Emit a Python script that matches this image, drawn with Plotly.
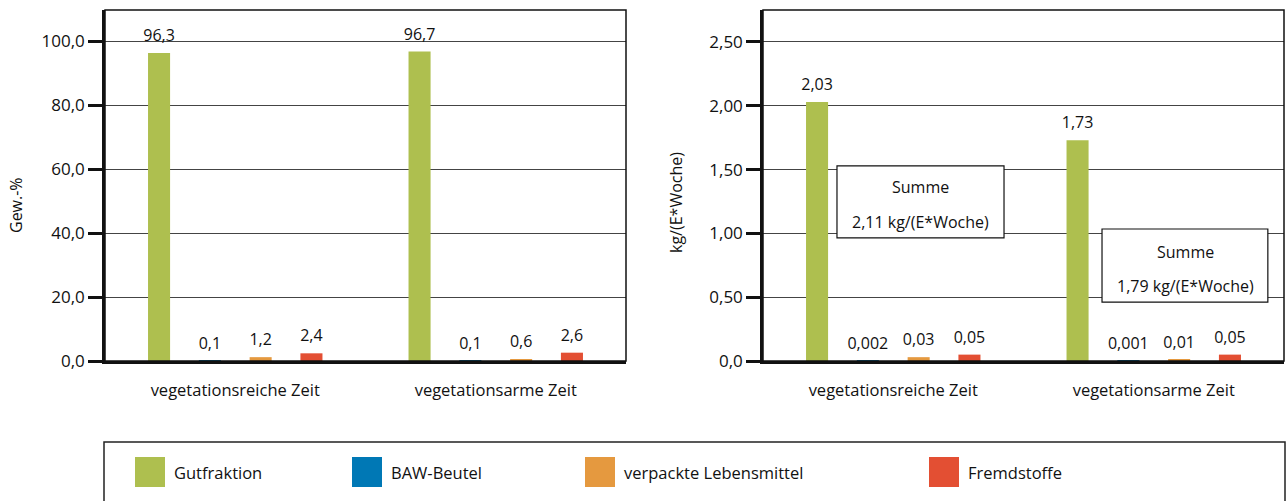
import plotly.graph_objects as go

categories = ["vegetationsreiche Zeit", "vegetationsarme Zeit"]
series_names = ["Gutfraktion", "BAW-Beutel", "verpackte Lebensmittel", "Fremdstoffe"]
colors = ["#AEBF4F", "#0078B5", "#E5993F", "#E34F33"]

# left chart: Gew.-%
pct_gut = [96.3, 96.7]
pct_baw = [0.1, 0.1]
pct_verp = [1.2, 0.6]
pct_fremd = [2.4, 2.6]
pct_labels = [["96,3", "96,7"], ["0,1", "0,1"], ["1,2", "0,6"], ["2,4", "2,6"]]

# right chart: kg/(E*Woche)
kg_gut = [2.03, 1.73]
kg_baw = [0.002, 0.001]
kg_verp = [0.03, 0.01]
kg_fremd = [0.05, 0.05]
kg_labels = [["2,03", "1,73"], ["0,002", "0,001"], ["0,03", "0,01"], ["0,05", "0,05"]]

left_ticks = [0, 20, 40, 60, 80, 100]
left_ticktext = ["0,0", "20,0", "40,0", "60,0", "80,0", "100,0"]
right_ticks = [0, 0.5, 1.0, 1.5, 2.0, 2.5]
right_ticktext = ["0,0", "0,50", "1,00", "1,50", "2,00", "2,50"]

sum_texts = [("Summe", "2,11 kg/(E*Woche)"), ("Summe", "1,79 kg/(E*Woche)")]

FONT = "Open Sans"
W, H = 1287, 501
BARGAP = 0.22

fig = go.Figure()
left_vals = [pct_gut, pct_baw, pct_verp, pct_fremd]
right_vals = [kg_gut, kg_baw, kg_verp, kg_fremd]
for vals, labels, xa, ya in [(left_vals, pct_labels, "x", "y"), (right_vals, kg_labels, "x2", "y2")]:
    for i, name in enumerate(series_names):
        fig.add_trace(go.Bar(x=categories, y=vals[i], name=name, marker_color=colors[i],
                             offsetgroup=str(i), xaxis=xa, yaxis=ya, showlegend=False,
                             hoverinfo="skip"))
    # value labels, grouped like the bars
    for i, name in enumerate(series_names):
        fig.add_trace(go.Scatter(x=categories, y=vals[i], text=labels[i], mode="markers+text",
                                 textposition="top center", offsetgroup=str(i),
                                 marker=dict(size=11, opacity=0, color=colors[i]),
                                 textfont=dict(family=FONT, size=16, color="#111"),
                                 cliponaxis=False, xaxis=xa, yaxis=ya, showlegend=False,
                                 hoverinfo="skip"))

ydom = [1 - 361 / H, 1 - 10 / H]
xdom1 = [105 / W, 626 / W]
xdom2 = [763 / W, 1284 / W]

common_x = dict(type="category", showline=True, linewidth=2.5, linecolor="#111", ticks="",
                tickfont=dict(family=FONT, size=16.5, color="#111"), ticklabelstandoff=12,
                showgrid=False, zeroline=False, automargin=False)
common_y = dict(showline=True, linewidth=2.5, linecolor="#111", ticks="outside", ticklen=14,
                tickwidth=2.5, tickcolor="#111", tickfont=dict(family=FONT, size=17, color="#111"),
                showgrid=True, gridcolor="#444", gridwidth=1, zeroline=False, tickmode="array",
                automargin=False)

fig.update_layout(
    template="none",
    width=W, height=H, autosize=False,
    margin=dict(l=0, r=0, t=0, b=0, pad=0, autoexpand=False),
    paper_bgcolor="white", plot_bgcolor="white",
    barmode="group", bargap=BARGAP, bargroupgap=0.566,
    scattermode="group", scattergap=BARGAP,
    xaxis=dict(domain=xdom1, anchor="y", **common_x),
    yaxis=dict(domain=ydom, anchor="x", range=[0, 109.7], tickvals=left_ticks,
               ticktext=left_ticktext, **common_y),
    xaxis2=dict(domain=xdom2, anchor="y2", **common_x),
    yaxis2=dict(domain=ydom, anchor="x2", range=[0, 2.75], tickvals=right_ticks,
                ticktext=right_ticktext, **common_y),
)

# thin frames (top / right borders)
for xr, yr in [("x domain", "y domain"), ("x2 domain", "y2 domain")]:
    fig.add_shape(type="rect", xref=xr, yref=yr, x0=0, x1=1, y0=0, y1=1,
                  line=dict(color="#111", width=1.5), layer="above")

# axis titles
fig.add_annotation(text="Gew.-%", xref="paper", yref="paper", x=16 / W, y=1 - 205 / H,
                   xanchor="center", yanchor="middle",
                   textangle=-90, showarrow=False, font=dict(family=FONT, size=16, color="#111"))
fig.add_annotation(text="kg/(E*Woche)", xref="paper", yref="paper", x=676 / W, y=1 - 203 / H,
                   xanchor="center", yanchor="middle",
                   textangle=-90, showarrow=False, font=dict(family=FONT, size=16, color="#111"))

# Summe boxes in right chart
boxes = [dict(x0=0.142, x1=0.4626, y0=0.964, y1=1.528, xc=0.302, t1=1.364, t2=1.089),
         dict(x0=0.6507, x1=0.969, y0=0.462, y1=1.034, xc=0.81, t1=0.854, t2=0.588)]
for b, (s1, s2) in zip(boxes, sum_texts):
    fig.add_shape(type="rect", xref="x2 domain", yref="y2", x0=b["x0"], x1=b["x1"],
                  y0=b["y0"], y1=b["y1"], line=dict(color="#111", width=1.2),
                  fillcolor="white", layer="above")
    fig.add_annotation(text=s1, xref="x2 domain", yref="y2", x=b["xc"], y=b["t1"],
                       xanchor="center", yanchor="middle",
                       showarrow=False, font=dict(family=FONT, size=16, color="#111"))
    fig.add_annotation(text=s2, xref="x2 domain", yref="y2", x=b["xc"], y=b["t2"],
                       xanchor="center", yanchor="middle",
                       showarrow=False, font=dict(family=FONT, size=16, color="#111"))

# manual legend
fig.add_shape(type="rect", xref="paper", yref="paper", x0=104 / W, x1=1285 / W,
              y0=-0.05, y1=1 - 442 / H, line=dict(color="#222", width=1.5))
leg_x = [135, 352, 585, 929]
SQ = 30
LEG_YC = 472
for i, name in enumerate(series_names):
    x0 = leg_x[i]
    fig.add_shape(type="rect", xref="paper", yref="paper", x0=x0 / W, x1=(x0 + SQ) / W,
                  y0=1 - (LEG_YC + SQ / 2) / H, y1=1 - (LEG_YC - SQ / 2) / H,
                  line=dict(width=0), fillcolor=colors[i])
    fig.add_annotation(text=name, xref="paper", yref="paper", x=(x0 + SQ + 7) / W,
                       y=1 - LEG_YC / H, xanchor="left", yanchor="middle", showarrow=False,
                       font=dict(family=FONT, size=16.5, color="#111"))

fig.write_html("out.html",
               config={"displayModeBar": False, "responsive": False},
               post_script="document.body.style.margin='0';document.body.style.overflow='hidden';")
